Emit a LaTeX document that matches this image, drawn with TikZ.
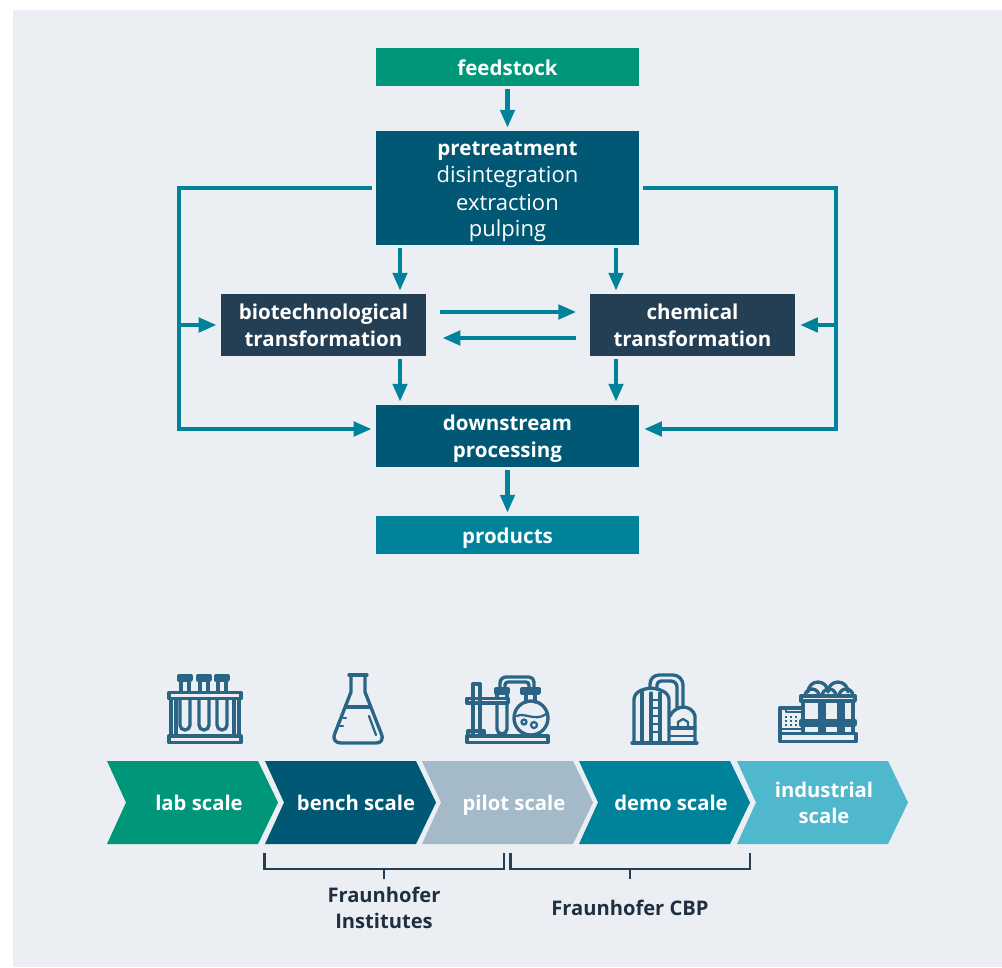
\documentclass[tikz,border=0pt]{standalone}
\usepackage{fontspec}
\setmainfont{Open Sans}
\usetikzlibrary{arrows.meta}
\definecolor{panel}{HTML}{EBEFF3}
\definecolor{cgreen}{HTML}{00967A}
\definecolor{cpetrol}{HTML}{005874}
\definecolor{cnavy}{HTML}{243E54}
\definecolor{cteal}{HTML}{00829B}
\definecolor{cpilot}{HTML}{A4BAC9}
\definecolor{clight}{HTML}{4FB8CC}
\definecolor{cicon}{HTML}{2A6585}
\definecolor{cfoot}{HTML}{1F2F3F}
\newcommand{\LS}{\rule[-3.9pt]{0pt}{20pt}}
\newcommand{\LT}[1]{\LS{\fontsize{16.5}{20}\selectfont\mdseries #1}}
\tikzset{
 box/.style={draw=none,inner sep=0pt,align=center,text=white,font=\fontsize{15.4}{20}\selectfont\bfseries,minimum width=197.25pt},
 flow/.style={draw=cteal,line width=3.7pt,line join=miter,-{Triangle[length=13.5pt,width=10.5pt]},shorten <=2.2pt,shorten >=2.2pt},
 chevlabel/.style={inner sep=0pt,align=center,text=white,font=\fontsize{15.2}{20}\selectfont\bfseries},
 brack/.style={draw=cnavy,line width=1.6pt},
 foot/.style={inner sep=0pt,align=center,text=cfoot,font=\fontsize{15.1}{20}\selectfont\bfseries},
 icon/.style={draw=cicon,line width=2.5pt,line join=round,line cap=round},
 iconthin/.style={draw=cicon,line width=1.7pt,line join=round,line cap=round},
}
\newcommand{\chev}[2]{\fill[#2] (#1,761) -- (#1+151,761) -- (#1+171,802.5) -- (#1+151,844) -- (#1,844) -- (#1+19,802.5) -- cycle;}
\begin{document}
\begin{tikzpicture}[x=0.75pt,y=-0.75pt]
\useasboundingbox (0,0) rectangle (1002,967);
\fill[white] (0,0) rectangle (1002,967);
\fill[panel] (13,10) rectangle (1002,967);
% nodes
\node[box,fill=cgreen,minimum height=28.5pt] (feed) at (507.5,67) {\LS feedstock};
\node[box,fill=cpetrol,minimum height=85.5pt] (pre) at (507.5,188) {\LS pretreatment\\\LT{disintegration}\\\LT{extraction}\\\LT{pulping}};
\node[box,fill=cnavy,minimum width=153.75pt,minimum height=46.5pt] (bio) at (323.5,325) {\LS biotechnological\\\LS transformation};
\node[box,fill=cnavy,minimum width=153.75pt,minimum height=46.5pt] (chem) at (692.5,325) {\LS chemical\\\LS transformation};
\node[box,fill=cpetrol,minimum height=46.5pt] (down) at (507.5,436) {\LS downstream\\\LS processing};
\node[box,fill=cteal,minimum height=28.5pt] (prod) at (507.5,535) {\LS products};
% guide coordinates
\coordinate (xl) at (400,0);
\coordinate (xr) at (616,0);
\coordinate (yt) at (0,312);
\coordinate (yb) at (0,338);
\coordinate (ya) at (0,188);
\coordinate (yd) at (0,429);
\coordinate (ym) at (0,325);
\coordinate (lx) at (179,0);
\coordinate (rx) at (836,0);
% connectors
\draw[flow] (feed) -- (pre);
\draw[flow] (down) -- (prod);
\draw[flow] (pre.south -| xl) -- (bio.north -| xl);
\draw[flow] (pre.south -| xr) -- (chem.north -| xr);
\draw[flow] (bio.south -| xl) -- (down.north -| xl);
\draw[flow] (chem.south -| xr) -- (down.north -| xr);
\draw[flow,shorten <=10.5pt,shorten >=10pt] (bio.east |- yt) -- (chem.west |- yt);
\draw[flow,shorten <=10pt,shorten >=12pt] (chem.west |- yb) -- (bio.east |- yb);
\draw[flow,shorten <=2.5pt,shorten >=3pt] (pre.west |- ya) -- (lx |- ya) -- (lx |- yd) -- (down.west |- yd);
\draw[flow,shorten <=0pt,shorten >=3pt] (lx |- ym) -- (bio.west |- ym);
\draw[flow,shorten <=3pt,shorten >=3.5pt] (pre.east |- ya) -- (rx |- ya) -- (rx |- yd) -- (down.east |- yd);
\draw[flow,shorten <=0pt,shorten >=3.5pt] (rx |- ym) -- (chem.east |- ym);
% chevrons
\chev{107}{cgreen}
\chev{265}{cpetrol}
\chev{422}{cpilot}
\chev{579}{cteal}
\chev{737}{clight}
\node[chevlabel] (lab) at (199,802.5) {\LS lab scale};
\node[chevlabel] (bench) at (356,802.5) {\LS bench scale};
\node[chevlabel] (pilot) at (514,802.5) {\LS pilot scale};
\node[chevlabel] (demo) at (671,802.5) {\LS demo scale};
\node[chevlabel] (ind) at (824,802.5) {\LS industrial\\\LS scale};
% brackets
\node[foot] (inst) at (384,907.5) {\LS Fraunhofer\\\LS Institutes};
\node[foot] (cbp) at (630,907.5) {\LS Fraunhofer CBP};
\coordinate (sl) at (384,879);
\coordinate (sr) at (630,879);
\draw[brack] (264.5,853) -- (264.5,869) -- (504,869) -- (504,853);
\draw[brack] (510.5,853) -- (510.5,869) -- (750,869) -- (750,853);
\draw[brack] (sl |- 0,869) -- (sl);
\draw[brack] (sr |- 0,869) -- (sr);
% icon: test tube rack
\draw[icon] (169,692.5) rectangle (241,698.5);
\draw[icon] (169,736) rectangle (241,742.5);
\draw[icon] (171,699) -- (171,736) (176,699) -- (176,736) (234,699) -- (234,736) (239,699) -- (239,736);
\foreach \t in {185,204,222}{
 \draw[icon] (\t-6,676) rectangle (\t+6,680);
 \draw[icon] (\t-4,680) -- (\t-4,692);
 \draw[icon] (\t+4,680) -- (\t+4,692);
 \draw[icon] (\t-5,699) -- (\t-5,725) arc[start angle=180,end angle=0,radius=5] -- (\t+5,699);
}
% icon: flask
\draw[icon] (349,675) -- (367,675);
\draw[icon] (351,675) -- (351,692) -- (335,733) .. controls (332,740) and (336,743) .. (341,743) -- (376,743) .. controls (381,743) and (384,740) .. (381,733) -- (365,692) -- (365,675);
\draw[icon] (347,707) -- (369,707);
\draw[iconthin] (369,716) -- (376,735);
\draw[iconthin] (343,718) -- (346,718) (340,726) -- (343,726);
% icon: pilot plant
\draw[icon] (467,736) rectangle (548,742.5);
\draw[icon] (473,684) rectangle (480,736);
\draw[icon] (467,698.5) rectangle (508,703);
\draw[icon] (468,731) rectangle (484,736);
\draw[icon] (496,689) rectangle (508,693);
\draw[icon] (497,693) -- (497,698);
\draw[icon] (507,693) -- (507,698);
\draw[icon] (497,703) -- (497,729) arc[start angle=180,end angle=0,radius=5] -- (507,703);
\draw[icon] (500,689) -- (500,683) arc[start angle=180,end angle=270,radius=6] -- (529,677) arc[start angle=270,end angle=360,radius=5] -- (534,689);
\draw[icon] (505,689) -- (505,685) arc[start angle=180,end angle=270,radius=3] -- (526,682) arc[start angle=270,end angle=360,radius=3] -- (529,689);
\draw[icon] (522,689) rectangle (539,693);
\draw[icon] (526,693) -- (526,702);
\draw[icon] (535,693) -- (535,702);
\draw[icon] (531,718) circle[radius=17];
\draw[iconthin] (517,716) .. controls (524,712) and (536,722) .. (546,714);
\draw[iconthin] (524,722) circle[radius=2.5] (534,725) circle[radius=3];
% icon: demo plant
\draw[icon] (632,743) -- (697,743);
\draw[icon] (634,743) -- (634,700) .. controls (634,692) and (642,689) .. (651,688) .. controls (660,689) and (669,692) .. (669,700) -- (669,743);
\draw[icon] (642,692) -- (642,743);
\draw[icon] (651,693) -- (651,743) (660,693) -- (660,743);
\foreach \y in {700,708,716,724,732}{\draw[iconthin] (651,\y) -- (660,\y);}
\draw[icon] (650,688) -- (650,684) arc[start angle=180,end angle=270,radius=9] -- (673,675) arc[start angle=270,end angle=360,radius=10] -- (683,706);
\draw[icon] (657,688) -- (657,685) arc[start angle=180,end angle=270,radius=4] -- (671,681) arc[start angle=270,end angle=360,radius=6] -- (677,708);
\draw[icon] (670,716) .. controls (672,710) and (680,707) .. (683,707) .. controls (688,707) and (694,710) .. (695,716) -- (695,743);
\draw[icon] (670,728) -- (695,728);
\draw[iconthin] (670,736) -- (695,736);
\draw[iconthin] (678,728) -- (678,722) -- (683,719) -- (688,722) -- (688,728);
% icon: industrial plant
\draw[icon] (780,733.5) rectangle (856,741.5);
\draw[icon] (780,733) -- (780,708) -- (801,708);
\draw[iconthin] (786,708) -- (786,712) -- (801,712);
\foreach \x in {786,791,796}{\foreach \y in {717,721,725}{\fill[cicon] (\x-1.2,\y-1.2) rectangle (\x+1.2,\y+1.2);}}
\draw[iconthin] (782,729) -- (801,729);
\draw[icon] (801,696) rectangle (855,701);
\draw[icon] (801,721) rectangle (855,725);
\draw[icon] (803,701) -- (803,733) (820,701) -- (820,733) (824,701) -- (824,733) (839,701) -- (839,733) (843,701) -- (843,733) (853,701) -- (853,733);
\draw[icon] (808,692) arc[start angle=180,end angle=360,radius=10] arc[start angle=180,end angle=360,radius=10];
\draw[icon] (805,696) arc[start angle=180,end angle=360,radius=7] (822,696) arc[start angle=180,end angle=360,radius=7] (839,696) arc[start angle=180,end angle=360,radius=7];
\end{tikzpicture}
\end{document}
